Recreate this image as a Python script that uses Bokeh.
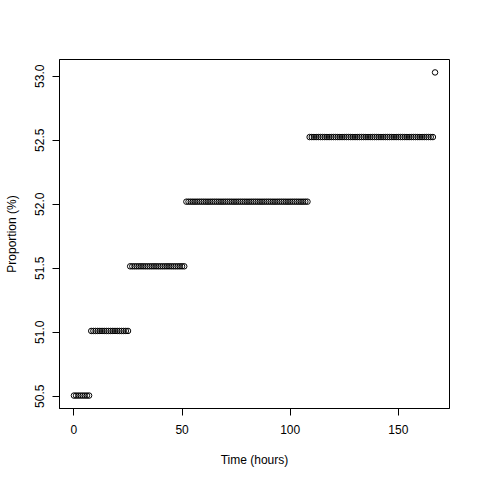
from bokeh.plotting import figure
from bokeh.models import FixedTicker, Range1d
from bokeh.embed import file_html
from bokeh.resources import INLINE

# Data: step levels and number of hourly points at each level
levels = [50.505, 51.01, 51.515, 52.02, 52.525, 53.03]
counts = [8, 18, 26, 57, 58, 1]
hours = list(range(sum(counts)))
proportion = []
for lv, c in zip(levels, counts):
    proportion.extend([lv] * c)

x_ticks = [0, 50, 100, 150]
y_ticks = [50.5, 51.0, 51.5, 52.0, 52.5, 53.0]

xmin, xmax = min(hours), max(hours)
ymin, ymax = min(proportion), max(proportion)
xpad = (xmax - xmin) * 0.04
ypad = (ymax - ymin) * 0.04

p = figure(width=480, height=480, output_backend="svg", toolbar_location=None,
           x_range=Range1d(xmin - xpad, xmax + xpad),
           y_range=Range1d(ymin - ypad, ymax + ypad),
           min_border_left=59, min_border_right=31, min_border_top=59, min_border_bottom=72)

p.scatter(hours, proportion, marker="circle", size=5.5, fill_color=None,
          line_color="black", line_width=1)

p.background_fill_color = "white"
p.border_fill_color = "white"
p.outline_line_color = "black"
p.outline_line_width = 1
p.xgrid.visible = False
p.ygrid.visible = False

font = "Liberation Sans"
for ax in (p.xaxis[0], p.yaxis[0]):
    ax.axis_line_color = "black"
    ax.major_tick_line_color = "black"
    ax.minor_tick_line_color = None
    ax.major_tick_in = 0
    ax.major_tick_out = 7
    ax.major_label_text_font = font
    ax.major_label_text_font_size = "12px"
    ax.major_label_text_color = "black"
    ax.axis_label_text_font = font
    ax.axis_label_text_font_size = "12px"
    ax.axis_label_text_font_style = "normal"
    ax.axis_label_text_color = "black"

p.xaxis[0].ticker = FixedTicker(ticks=x_ticks)
p.yaxis[0].ticker = FixedTicker(ticks=y_ticks)
p.yaxis[0].major_label_overrides = {t: f"{t:.1f}" for t in y_ticks}
p.yaxis[0].major_label_orientation = "vertical"
p.xaxis[0].axis_label = "Time (hours)"
p.yaxis[0].axis_label = "Proportion (%)"
p.xaxis[0].major_label_standoff = 9
p.xaxis[0].axis_label_standoff = 16
p.yaxis[0].major_label_standoff = 8
p.yaxis[0].axis_label_standoff = 14

open("out.html", "w").write(file_html(p, INLINE))
